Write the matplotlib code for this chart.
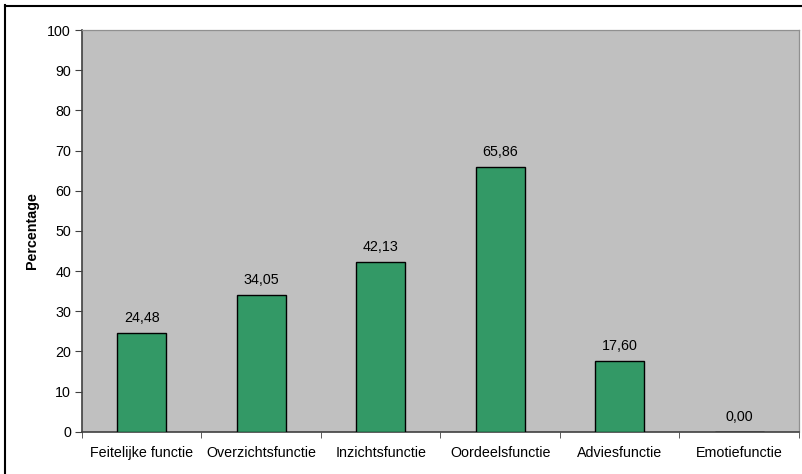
import numpy as np
import matplotlib.pyplot as plt
from matplotlib.lines import Line2D

plt.rcParams['font.family'] = ['Liberation Sans', 'DejaVu Sans']

categories = ['Feitelijke functie', 'Overzichtsfunctie', 'Inzichtsfunctie',
              'Oordeelsfunctie', 'Adviesfunctie', 'Emotiefunctie']
values = [24.48, 34.05, 42.13, 65.86, 17.60, 0.00]

fs = 10.3
fig = plt.figure(figsize=(8.03, 4.74), dpi=100)
ax = fig.add_axes([0.1021, 0.0892, 0.8929, 0.8475])
ax.set_facecolor('#c0c0c0')

x = np.arange(len(categories))
ax.bar(x, values, width=0.41, color='#339966', edgecolor='black',
       linewidth=1.0, zorder=3)

# Value labels with a decimal comma
for xi, v in zip(x, values):
    ax.text(xi, v + 2.0, f'{v:.2f}'.replace('.', ','), ha='center',
            va='bottom', fontsize=fs)

ax.set_xlim(-0.5, len(categories) - 0.5)
ax.set_ylim(0, 100)
ax.set_yticks(np.arange(0, 101, 10))
ax.set_xticks(x)
ax.set_xticklabels(categories, fontsize=fs)
ax.tick_params(axis='x', length=0, pad=10)
ax.set_xticks(np.arange(-0.5, len(categories)), minor=True)
ax.tick_params(axis='x', which='minor', length=4, direction='out',
               color='#404040')
ax.tick_params(axis='y', labelsize=fs, length=5, direction='out',
               color='#404040', pad=3)

for side in ['left', 'bottom']:
    ax.spines[side].set_color('#404040')
    ax.spines[side].set_linewidth(1.2)
for side in ['top', 'right']:
    ax.spines[side].set_color('#909090')
    ax.spines[side].set_linewidth(0.9)

ax.set_ylabel('Percentage', fontsize=fs, fontweight='bold', labelpad=6)

# Outer chart border (only top and left are inside the picture)
fig.lines.append(Line2D([5 / 803, 1.0], [1 - 5.5 / 474, 1 - 5.5 / 474],
                        transform=fig.transFigure, color='black', lw=1.5))
fig.lines.append(Line2D([5.5 / 803, 5.5 / 803], [0.0, 1 - 5 / 474],
                        transform=fig.transFigure, color='black', lw=1.5))

fig.savefig('out.png', dpi=100)
